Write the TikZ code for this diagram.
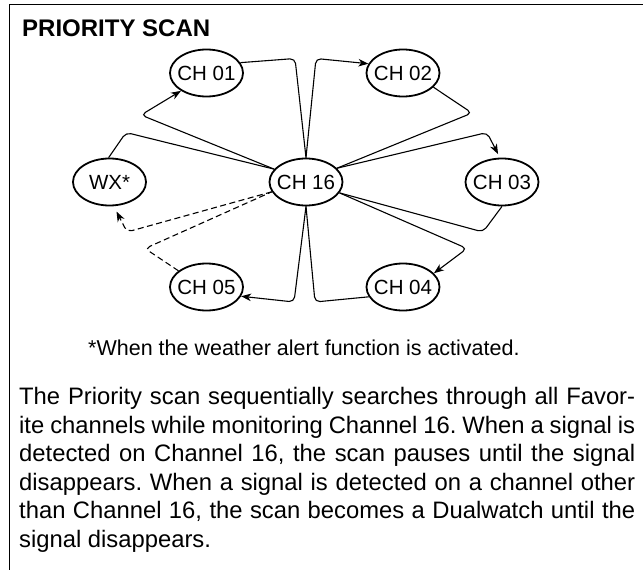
\documentclass[tikz,border=0pt]{standalone}
\usepackage{fontspec}
\setmainfont{Liberation Sans}
\usetikzlibrary{arrows.meta,shapes.geometric}
\begin{document}
\begin{tikzpicture}[x=1pt,y=-1pt,
  ch/.style={ellipse,draw,line width=1.8pt,minimum width=73pt,minimum height=47pt,inner sep=0pt,
    font=\fontsize{20.5}{20}\selectfont},
  flow/.style={line width=1.1pt,rounded corners=5pt},
  tipped/.style={-{Stealth[length=10pt,width=7.5pt,inset=3pt]}},
  dashflow/.style={flow,dash pattern=on 6pt off 3.5pt}
]
\useasboundingbox (0,0) rectangle (643,570);
\draw[line width=1.5pt] (9.5,570) -- (9.5,4.5) -- (643,4.5);

\node[anchor=base west,inner sep=0pt,font=\bfseries\fontsize{24}{24}\selectfont] (title) at (22,36.5) {PRIORITY SCAN};

\node[ch] (ch01) at (206.5,73) {\makebox[0pt]{CH 01}};
\node[ch] (ch02) at (403,73) {\makebox[0pt]{CH 02}};
\node[ch] (wx) at (109.5,182) {\makebox[0pt]{WX*}};
\node[ch] (ch16) at (306,182) {\makebox[0pt]{CH 16}};
\node[ch] (ch03) at (502,182) {\makebox[0pt]{CH 03}};
\node[ch] (ch05) at (206.5,287) {\makebox[0pt]{CH 05}};
\node[ch] (ch04) at (403,287) {\makebox[0pt]{CH 04}};

\coordinate (k1) at (295,58.5);
\coordinate (k2) at (316,58.5);
\coordinate (k3) at (472,113);
\coordinate (k4) at (487,132.5);
\coordinate (k5) at (483,232);
\coordinate (k6) at (467,248.5);
\coordinate (k7) at (315,302);
\coordinate (k8) at (294,302);
\coordinate (k9) at (145,248.5);
\coordinate (k10) at (127,232);
\coordinate (k11) at (126,132.5);
\coordinate (k12) at (141,115);

\draw[flow] (ch01.17) -- (k1) -- (ch16.north);
\draw[flow,tipped] (ch16.north) -- (k2) -- (ch02.165);
\draw[flow] (ch02.-25) -- (k3) -- (ch16.24);
\draw[flow,tipped,shorten >=4pt] (ch16.24) -- (k4) -- (ch03.95);
\draw[flow] (ch03.-90) -- (k5) -- (ch16.-18);
\draw[flow,tipped] (ch16.-18) -- (k6) -- (ch04.24);
\draw[flow] (ch04.196) -- (k7) -- (ch16.south);
\draw[flow,tipped] (ch16.south) -- (k8) -- (ch05.-15);
\draw[dashflow] (ch05.150) -- (k9) -- (ch16.196);
\draw[dashflow,tipped,shorten >=6pt] (ch16.196) -- (k10) -- (wx.-80);
\draw[flow] (wx.92) -- (k11) -- (ch16.158);
\draw[flow,tipped] (ch16.158) -- (k12) -- (ch01.215);

\node[anchor=base west,inner sep=0pt,font=\fontsize{21.5}{24}\selectfont] (note) at (88,355)
  {*When the weather alert function is activated.};

\node[anchor=north west,inner sep=0pt,text width=616pt,align=justify,
  font=\fontsize{23.8}{28.6}\selectfont] (para) at (19,387)
  {\frenchspacing The Priority scan sequentially searches through all Favor-\linebreak
   ite channels while monitoring Channel 16. When a signal is\linebreak
   detected on Channel 16, the scan pauses until the signal\linebreak
   disappears. When a signal is detected on a channel other\linebreak
   than Channel 16, the scan becomes a Dualwatch until the\linebreak
   signal disappears.};
\end{tikzpicture}
\end{document}
